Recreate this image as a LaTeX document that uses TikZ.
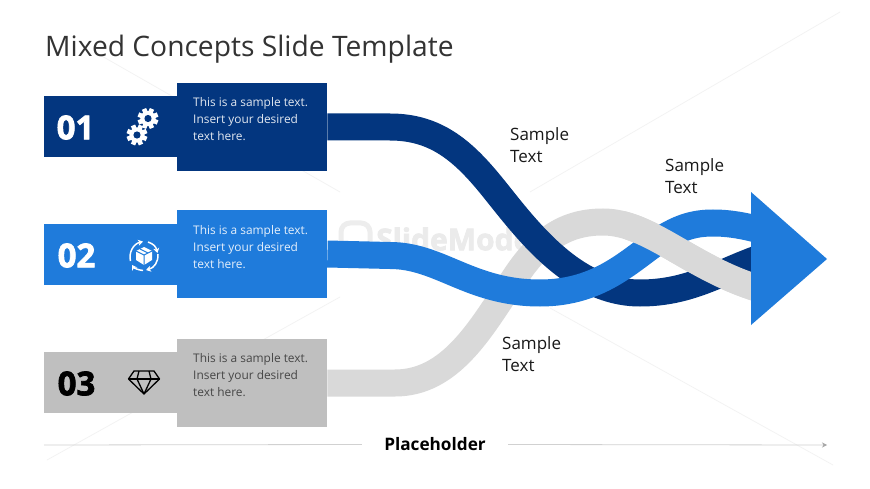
\documentclass[tikz,border=0pt]{standalone}
\usepackage{fontspec}
\setmainfont{Open Sans}
\newfontfamily\numfont[BoldFeatures={FakeBold=2.2}]{Open Sans}
\usetikzlibrary{arrows.meta}
\definecolor{cdark}{HTML}{03367F}
\definecolor{cblue}{HTML}{1F7BDB}
\definecolor{cgrey}{HTML}{BFBFBF}
\definecolor{crib}{HTML}{D9D9D9}
\definecolor{ctitle}{HTML}{333333}
\tikzset{
  x=1pt,y=-1pt,
  tagbar/.style={draw=none,fill=#1,minimum width=133pt,minimum height=61pt,inner sep=0pt,anchor=west},
  textbox/.style={draw=none,fill=#1,minimum width=150pt,minimum height=88pt,inner sep=0pt,anchor=west},
  numlabel/.style={text=#1,font=\numfont\bfseries\fontsize{33}{36}\selectfont,anchor=center,inner sep=0pt},
  bodytext/.style={text=#1,font=\fontsize{11.9}{17}\selectfont,align=left,anchor=north west,inner sep=0pt},
  sampletext/.style={text=black!90,font=\fontsize{17}{21.5}\selectfont,align=left,anchor=north west,inner sep=0pt},
  ribbon/.style={line width=27pt,draw=#1,line cap=butt},
  faint/.style={draw=black!5,line width=0.7pt},
  axisline/.style={draw=black!18,line width=0.8pt},
}
\newcommand{\gearicon}[3]{%
  \fill[white] (#1,#2) circle (7.6pt);
  \foreach \a in {0,45,...,315}{
    \fill[white,rotate around={\a+22.5:(#1,#2)}] (#1-2.3,#2-10.4) rectangle (#1+2.3,#2-5);
  }
  \fill[#3] (#1,#2) circle (3.6pt);
}
\begin{document}
\begin{tikzpicture}
\useasboundingbox (0,0) rectangle (870,489);
\fill[white] (0,0) rectangle (870,489);
% faint background
\draw[faint] (100,55) -- (340,192);
\draw[faint] (47,460) -- (340,297);
\draw[faint] (530,192) -- (840,12);
\draw[faint] (550,308) -- (833,465);
\draw[draw=black!7,line width=5pt,rounded corners=9pt] (341,223) rectangle (370,252);
\node[text=black!8,font=\numfont\bfseries\fontsize{30}{32}\selectfont,anchor=west,inner sep=0pt] (wm) at (376,239) {SlideModel};
% title
\node[text=ctitle,font=\fontsize{28.2}{30}\selectfont,anchor=west,inner sep=0pt] (title) at (45,49) {Mixed Concepts Slide Template};
% bars
\node[tagbar=cdark] (b1) at (44,127) {};
\node[tagbar=cblue] (b2) at (44,254.5) {};
\node[tagbar=cgrey] (b3) at (44,382.5) {};
\node[textbox=cdark] (t1) at (177,127) {};
\node[textbox=cblue] (t2) at (177,254) {};
\node[textbox=cgrey] (t3) at (177,383) {};
\node[numlabel=white] (n1) at (75.5,127.5) {01};
\node[numlabel=white] (n2) at (76.5,255.5) {02};
\node[numlabel=black] (n3) at (76.5,383.5) {03};
\node[bodytext=white!88!cdark] (x1) at (193,97.5) {This is a sample text.\\Insert your desired\\text here.};
\node[bodytext=white!88!cblue] (x2) at (193,225.5) {This is a sample text.\\Insert your desired\\text here.};
\node[bodytext=black!72] (x3) at (193,353.5) {This is a sample text.\\Insert your desired\\text here.};
% icons
\gearicon{148}{118.5}{cdark}
\gearicon{137}{135}{cdark}
\begin{scope}[shift={(144,256)},white,line width=1.5pt]
  \draw[-{Stealth[length=5pt,width=6pt]}] (-13.5,5) .. controls (-15.5,-3) and (-11,-12) .. (-1,-14.5);
  \draw[-{Stealth[length=5pt,width=6pt]}] (4,-14) .. controls (10,-12) and (12,-9) .. (13.5,-3);
  \draw[-{Stealth[length=5pt,width=6pt]}] (14,-2) .. controls (14.5,6) and (10,12) .. (2,14);
  \draw[-{Stealth[length=5pt,width=6pt]}] (-1,14.5) .. controls (-6,14) and (-10,12) .. (-12,9);
  \fill (0,-9) -- (8,-5) -- (8,4) -- (0,9) -- (-8,4) -- (-8,-5) -- cycle;
  \draw[cblue,line width=1pt] (-8,-5) -- (0,-1) -- (8,-5) (0,-1) -- (0,9) (-4,-7) -- (4,-3);
\end{scope}
\begin{scope}[shift={(144,382)},black,line width=1.3pt,line join=round]
  \draw (-10,-11) -- (10,-11) -- (15.5,-3) -- (0,12) -- (-15.5,-3) -- cycle;
  \draw (-15.5,-3) -- (15.5,-3);
  \draw (-5,-11) -- (-7,-3) -- (0,12) -- (7,-3) -- (5,-11);
\end{scope}
% ribbons
\coordinate (ae) at (760,258);
\draw[ribbon=crib] (t3.east) -- (395,383) .. controls (450,383) and (480,330) .. (510,285) .. controls (535,245) and (560,222) .. (603,222) .. controls (650,222) and (690,268) .. (760,289);
\draw[ribbon=cdark] (t1.east) -- (390,127) .. controls (435,127) and (462,150) .. (490,184) .. controls (522,223) and (570,293) .. (640,293) .. controls (690,293) and (720,272) .. (ae);
\draw[ribbon=cblue] (t2.east) -- (390,255.5) .. controls (440,255.5) and (470,293) .. (540,293) .. controls (600,293) and (630,260) .. (660,240) .. controls (680,227) and (695,223) .. (713,223) .. controls (730,223) and (745,226) .. (760,230);
\begin{scope}
  \clip (625,150) rectangle (760,340);
  \draw[ribbon=crib] (603,222) .. controls (650,222) and (690,268) .. (760,289);
\end{scope}
% arrow head
\coordinate (h1) at (751,192);
\coordinate (h2) at (827,259);
\coordinate (h3) at (751,325);
\fill[cblue] (h1) -- (h2) -- (h3) -- cycle;
% labels
\node[sampletext] (s1) at (510,127.5) {Sample\\Text};
\node[sampletext] (s2) at (665,158.5) {Sample\\Text};
\node[sampletext] (s3) at (502,336.5) {Sample\\Text};
% axis
\coordinate (a0) at (44,445);
\coordinate (a1) at (827,445);
\node[font=\bfseries\fontsize{17.2}{18}\selectfont,text=black,minimum width=146pt,inner sep=0pt] (ph) at (435,444.5) {Placeholder};
\draw[axisline] (a0) -- (ph.west);
\draw[axisline,-{Stealth[length=5pt,width=5pt,color=black!35]}] (ph.east) -- (a1);
\end{tikzpicture}
\end{document}
